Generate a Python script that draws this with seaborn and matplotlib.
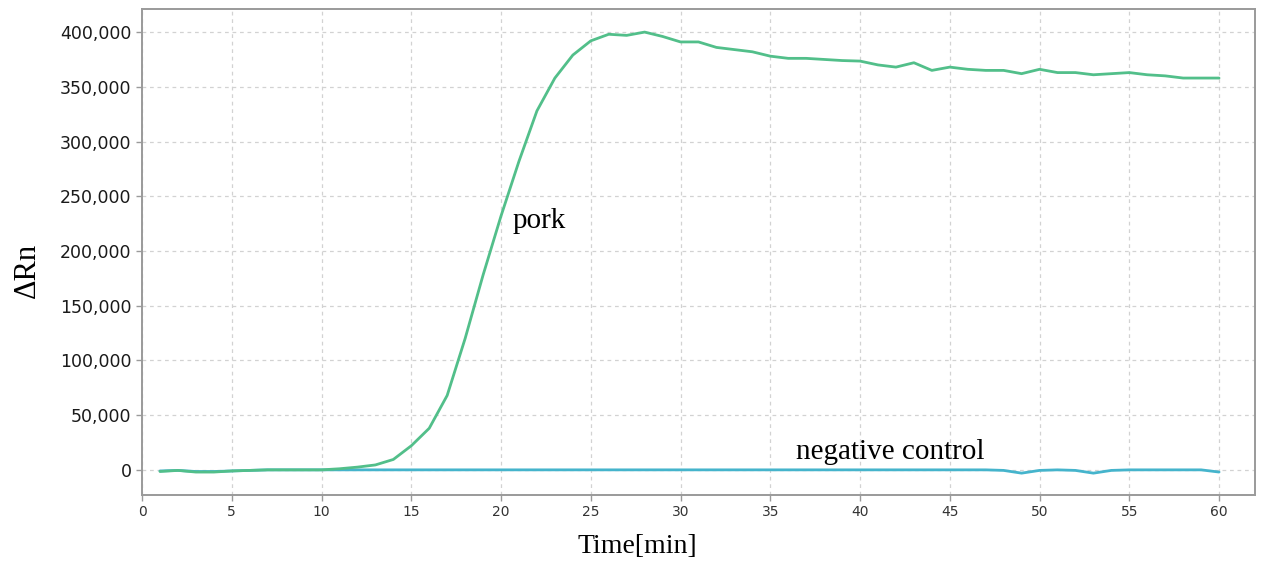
import pandas as pd
import matplotlib.pyplot as plt
import seaborn as sns
from matplotlib.ticker import FuncFormatter, MultipleLocator

# Amplification curves (delta Rn per minute)
minutes = list(range(1, 61))
pork = [-1500, -500, -2000, -2000, -1000, -500, 0, 0, 0, 0,
        1000, 2500, 4500, 9500, 22000, 38000, 68000, 120000, 178000, 232000,
        282000, 328000, 358000, 379000, 392000, 398000, 397000, 400000, 396000, 391000,
        391000, 386000, 384000, 382000, 378000, 376000, 376000, 375000, 374000, 373500,
        370000, 368000, 372000, 365000, 368000, 366000, 365000, 365000, 362000, 366000,
        363000, 363000, 361000, 362000, 363000, 361000, 360000, 358000, 358000, 358000]
negative = [-1000, -500, -1500, -1500, -1000, -500, 0, 0, 0, 0,
            0, 0, 0, 0, 0, 0, 0, 0, 0, 0,
            0, 0, 0, 0, 0, 0, 0, 0, 0, 0,
            0, 0, 0, 0, 0, 0, 0, 0, 0, 0,
            0, 0, 0, 0, 0, 0, 0, -500, -3000, -500,
            0, -500, -3000, -500, 0, 0, 0, 0, 0, -2000]

df = pd.DataFrame({
    "Time": minutes * 2,
    "dRn": pork + negative,
    "Sample": ["pork"] * 60 + ["negative control"] * 60,
})

sns.set_style("whitegrid")
plt.rcParams['font.family'] = ['DejaVu Sans']

fig = plt.figure(figsize=(12.76, 5.69), dpi=100)
ax = fig.add_axes([0.1113, 0.130, 0.8722, 0.854])

# negative control first so the pork curve sits on top
sns.lineplot(data=df, x="Time", y="dRn", hue="Sample",
             hue_order=["negative control", "pork"],
             palette={"pork": "#52bf8a", "negative control": "#45b4cc"},
             linewidth=2, legend=False, ax=ax)

ax.set_xlim(0, 62)
ax.set_ylim(-23000, 421000)
ax.xaxis.set_major_locator(MultipleLocator(5))
ax.yaxis.set_major_locator(MultipleLocator(50000))
ax.yaxis.set_major_formatter(FuncFormatter(lambda v, _: f"{int(v):,}"))

ax.grid(True, linestyle=(0, (3, 3)), color="#d2d2d2", linewidth=0.9)
for s in ax.spines.values():
    s.set_color("#9a9a9a")
    s.set_linewidth(1.4)

ax.tick_params(axis="y", labelsize=12.5, colors="#9a9a9a", labelcolor="#1a1a1a",
               length=4, width=1, left=True)
ax.tick_params(axis="x", labelsize=10, colors="#9a9a9a", labelcolor="#333333",
               length=4, width=1, bottom=True)

ax.set_xlabel("Time[min]", family="Liberation Serif", fontsize=20, color="black")
ax.set_ylabel("ΔRn", family="Liberation Serif", fontsize=22, color="black")
ax.xaxis.set_label_coords(0.445, -0.08)
ax.yaxis.set_label_coords(-0.09, 0.463)

ax.text(20.65, 221000, "pork", family="Liberation Serif", fontsize=21,
        va="baseline", color="black")
ax.text(36.45, 9500, "negative control", family="Liberation Serif", fontsize=21,
        va="baseline", color="black")

plt.savefig("out.png", dpi=100)
